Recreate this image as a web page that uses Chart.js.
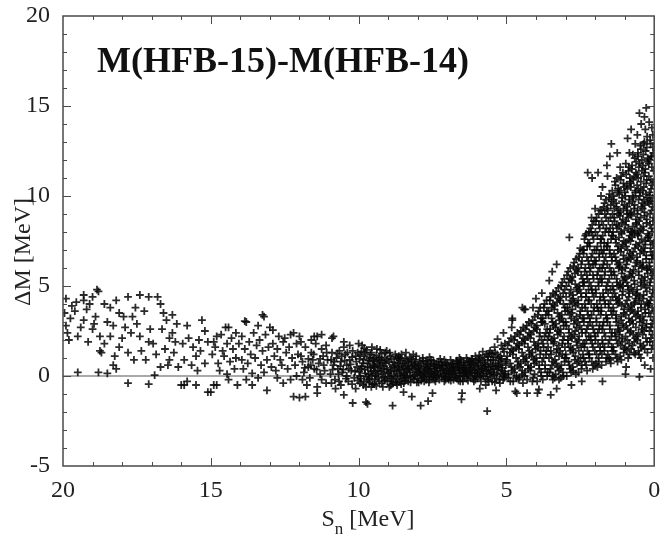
<!DOCTYPE html>
<html>
<head>
<meta charset="utf-8">
<script src="https://cdn.jsdelivr.net/npm/chart.js@4.4.1/dist/chart.umd.min.js"></script>
<style>
  html, body { margin: 0; padding: 0; background: #fff; }
  #wrap { width: 660px; height: 540px; position: relative; }
</style>
</head>
<body>
<div id="wrap"><canvas id="chart"></canvas></div>
<script>
// S_n [MeV] , dM [MeV]
var tailPts = [
  // 15 - 20 MeV
  [15.3,3.1],[15.2,2.5],[15.8,2.8],[15.5,1.1],[15.2,0.7],[15.9,0.9],[15.5,-0.5],[15.8,-0.3],[15.9,-0.5],[16.0,-0.5],[15.1,-0.9],[15.4,2.0],[15.6,1.6],[15.75,2.1],[15.35,1.4],[15.65,0.6],[15.95,1.8],[15.1,1.9],[15.45,0.3],
  [16.1,0.5],[16.4,0.9],[16.7,0.5],[16.9,0.05],[16.2,1.9],[16.3,2.4],[16.4,2.1],[16.6,3.5],[16.3,3.4],[16.5,3.1],[16.7,4.0],[16.8,4.4],[16.15,2.9],[16.55,1.5],[16.85,1.2],[16.25,1.3],[16.65,2.6],[16.95,1.8],[16.45,0.6],
  [17.1,4.4],[17.4,4.5],[17.8,4.4],[17.5,2.9],[17.4,2.2],[17.1,1.9],[17.6,0.9],[17.2,0.9],[17.8,1.3],[17.1,-0.45],[17.8,-0.4],[17.9,2.7],[17.25,3.6],[17.55,3.8],[17.7,2.4],[17.35,1.4],[17.05,2.6],[17.95,3.3],[17.65,3.3],
  [18.2,4.2],[18.6,4.0],[18.4,3.8],[18.1,3.5],[18.75,2.2],[18.4,2.2],[18.75,1.4],[18.7,1.3],[18.1,1.6],[18.8,0.2],[18.5,0.15],[18.3,0.6],[18.2,0.4],[18.9,3.3],[18.5,3.0],[18.3,2.8],[18.0,2.1],[18.6,1.8],[18.95,2.9],[18.25,1.1],
  [19.3,4.5],[19.3,4.2],[19.0,4.4],[18.8,4.7],[18.85,4.8],[19.1,4.0],[19.3,3.1],[19.4,2.7],[19.0,2.6],[19.9,4.3],[19.95,3.5],[19.85,2.4],[19.9,2.8],[19.7,3.9],[19.5,0.2],[19.6,3.6],[19.2,3.7],[19.5,2.2],[19.75,3.2],[19.15,1.9],[19.55,4.1],[19.8,2.0],
  // 10 - 15 MeV
  [10.0,1.8],[10.2,1.4],[10.5,1.6],[10.9,2.1],[10.85,2.2],[10.2,-1.5],[10.5,-1.05],[10.1,1.1],[10.3,0.9],[10.45,1.2],[10.6,0.8],[10.75,1.0],[10.85,0.6],[10.05,0.5],[10.25,0.3],[10.4,0.6],[10.55,0.2],[10.7,0.4],[10.95,0.1],[10.15,-0.1],[10.35,-0.3],[10.6,-0.5],[10.8,-0.2],[10.5,1.9],[10.65,1.4],[10.9,1.3],[10.3,1.7],[10.1,-0.7],[10.78,-0.7],[10.4,0.0],
  [10.03,1.3],[10.22,1.05],[10.38,1.3],[10.57,1.1],[10.72,1.25],[10.93,0.9],[10.08,0.8],[10.27,0.65],[10.47,0.85],[10.62,0.55],[10.82,0.8],[10.12,0.25],[10.33,0.4],[10.52,0.35],[10.68,0.1],[10.88,0.35],[10.02,-0.25],[10.22,-0.45],[10.43,-0.15],[10.66,-0.3],[10.92,-0.4],
  [11.4,2.2],[11.5,2.2],[11.8,-1.15],[11.4,-0.95],[11.1,1.7],[11.25,1.5],[11.45,1.8],[11.6,1.3],[11.8,1.6],[11.95,1.1],[11.05,0.9],[11.2,1.1],[11.35,0.7],[11.55,0.9],[11.7,0.5],[11.9,0.8],[11.15,0.3],[11.3,0.1],[11.5,0.4],[11.65,-0.1],[11.85,0.2],[11.1,-0.4],[11.4,-0.6],[11.75,-0.5],[11.95,1.9],[11.6,2.0],[11.25,2.3],[11.9,-0.2],
  [11.08,1.3],[11.3,0.95],[11.52,1.2],[11.7,0.95],[11.18,0.6],[11.42,0.35],[11.62,0.6],[11.82,0.45],[11.25,-0.2],
  [12.2,2.4],[12.3,2.3],[12.0,2.2],[12.9,2.55],[12.2,-1.15],[12.0,-1.2],[12.1,1.8],[12.35,1.6],[12.55,1.9],[12.75,1.5],[12.9,1.8],[12.05,1.2],[12.25,1.0],[12.45,1.3],[12.65,0.9],[12.85,1.1],[12.15,0.6],[12.4,0.4],[12.6,0.6],[12.8,0.3],[12.95,0.5],[12.3,-0.2],[12.55,-0.4],[12.75,-0.1],[12.5,2.1],[12.7,2.2],[12.1,0.0],
  [13.2,3.3],[13.25,3.4],[13.4,2.8],[13.0,2.7],[13.85,3.05],[13.8,3.0],[13.1,-0.8],[13.6,-0.5],[13.6,0.15],[13.15,2.3],[13.35,2.0],[13.55,2.4],[13.7,1.9],[13.95,2.2],[13.05,1.6],[13.25,1.4],[13.45,1.7],[13.65,1.2],[13.85,1.5],[13.1,0.9],[13.3,0.6],[13.5,1.0],[13.75,0.7],[13.9,0.4],[13.2,0.2],[13.4,-0.1],[13.8,-0.2],[13.95,0.9],
  [14.4,2.7],[14.5,2.7],[14.1,-0.5],[14.8,-0.5],[14.9,-0.5],[15.0,-0.9],[14.8,2.2],[14.15,2.4],[14.3,2.1],[14.65,2.3],[14.9,1.9],[14.05,1.8],[14.25,1.5],[14.45,1.8],[14.6,1.4],[14.85,1.6],[14.15,1.0],[14.35,0.8],[14.55,1.1],[14.75,0.7],[14.95,1.2],[14.2,0.4],[14.45,0.1],[14.7,0.3],[14.4,-0.2]
];

var troughPts = [
  [5.05,1.8],[5.3,2.05],[5.1,2.4],[5.35,-0.8],[5.12,1.5],[5.38,1.3],[5.2,1.1],[5.45,0.9],[5.03,0.8],[5.28,0.6],[5.42,0.4],[5.15,0.3],[5.33,0.1],[5.07,-0.1],[5.24,-0.2],[5.48,-0.3],[5.18,0.7],[5.4,1.6],[5.27,1.0],[5.1,0.0],[5.45,0.2],[5.22,-0.4],[5.36,0.55],
  [5.08,1.35],[5.31,1.2],[5.16,0.95],[5.44,1.05],[5.23,0.85],[5.02,0.6],[5.37,0.7],[5.13,0.45],[5.29,0.35],[5.47,0.55],[5.06,0.25],[5.2,0.15],[5.41,0.05],[5.11,-0.2],[5.34,-0.15],[5.26,0.5],[5.49,1.25],[5.17,1.7],[5.04,0.1],[5.39,-0.35],
  [5.55,1.4],[5.8,1.35],[5.7,-0.5],[5.65,-1.95],[5.62,1.1],[5.88,1.0],[5.53,0.85],[5.75,0.75],[5.95,0.6],[5.6,0.5],[5.83,0.4],[5.68,0.3],[5.9,0.2],[5.57,0.1],[5.78,0.0],[5.98,-0.1],[5.64,-0.2],[5.86,-0.3],[5.72,0.65],[5.52,0.25],[5.93,0.9],[5.9,-0.7],[5.67,1.2],
  [5.58,1.25],[5.74,1.05],[5.92,1.15],[5.63,0.9],[5.81,0.85],[5.97,0.75],[5.54,0.65],[5.7,0.55],[5.87,0.55],[5.61,0.35],[5.79,0.25],[5.95,0.35],[5.66,0.15],[5.84,0.1],[5.53,-0.05],[5.71,-0.15],[5.89,-0.05],[5.6,-0.3],[5.76,0.45],[5.99,0.15],
  [6.15,0.95],[6.05,1.1],[6.32,0.85],[6.45,0.75],[6.1,0.7],[6.25,0.6],[6.4,0.5],[6.02,0.45],[6.2,0.35],[6.36,0.25],[6.48,0.2],[6.08,0.15],[6.28,0.05],[6.42,-0.05],[6.13,-0.15],[6.3,-0.25],[6.47,-0.3],[6.22,0.8],[6.05,-0.2],[6.38,0.4],
  [6.03,0.85],[6.18,0.95],[6.35,1.0],[6.12,0.55],[6.27,0.75],[6.44,0.6],[6.07,0.3],[6.23,0.45],[6.39,0.3],[6.16,0.2],[6.33,0.1],[6.49,0.0],[6.04,0.0],[6.21,-0.05],[6.41,0.15],[6.1,-0.3],[6.26,0.25],[6.46,0.45],[6.34,-0.15],[6.19,0.65],
  [6.5,-0.95],[6.52,-1.3],[6.55,0.9],[6.7,0.8],[6.85,0.7],[6.6,0.6],[6.78,0.5],[6.93,0.45],[6.63,0.35],[6.82,0.25],[6.97,0.2],[6.58,0.15],[6.74,0.05],[6.9,-0.05],[6.67,-0.15],[6.88,-0.25],[6.56,-0.3],[6.8,0.4],[6.95,-0.2],[6.65,0.7],
  [6.53,0.75],[6.68,0.85],[6.84,0.55],[6.99,0.65],[6.6,0.45],[6.76,0.3],[6.91,0.3],[6.54,0.3],[6.71,0.15],[6.86,0.1],[6.57,0.0],[6.72,-0.1],[6.94,0.1],[6.62,-0.25],[6.79,-0.2],[6.97,-0.1],[6.64,0.5],[6.81,0.65],[6.89,0.9],[6.59,1.0],
  [7.1,0.9],[7.05,0.75],[7.3,0.8],[7.45,0.65],[7.15,0.55],[7.38,0.45],[7.02,0.4],[7.22,0.3],[7.42,0.25],[7.12,0.15],[7.33,0.05],[7.48,-0.05],[7.07,-0.1],[7.27,-0.2],[7.4,-0.3],[7.18,0.6],[7.5,-0.95],[7.35,0.2],
  [7.03,0.6],[7.2,0.75],[7.36,0.65],[7.47,0.85],[7.09,0.3],[7.25,0.45],[7.43,0.4],[7.14,0.0],[7.3,0.1],[7.46,0.1],[7.04,0.15],[7.2,-0.05],[7.38,-0.1],[7.1,-0.3],[7.29,0.6],[7.44,-0.2],[7.16,0.35],[7.24,0.95],[7.4,0.55],[7.06,-0.2],
  [7.6,1.05],[7.65,-1.4],[7.9,-1.65],[7.55,0.9],[7.72,0.8],[7.88,0.7],[7.58,0.55],[7.8,0.5],[7.95,0.4],[7.62,0.3],[7.76,0.2],[7.92,0.15],[7.52,0.1],[7.7,0.0],[7.85,-0.1],[7.6,-0.2],[7.78,-0.3],[7.97,-0.35],[7.68,0.65],[7.83,1.0],
  [7.53,0.7],[7.66,0.85],[7.82,0.85],[7.98,0.6],[7.57,0.4],[7.74,0.55],[7.9,0.3],[7.56,0.2],[7.72,0.35],[7.87,0.05],[7.64,0.1],[7.8,-0.05],[7.96,0.2],[7.54,-0.1],[7.71,-0.2],[7.88,-0.25],[7.62,-0.35],[7.93,0.8],[7.79,0.2],[7.66,0.45],
  [8.4,1.3],[8.2,-1.15],[8.48,-0.9],[8.05,1.1],[8.22,0.95],[8.38,0.85],[8.1,0.7],[8.3,0.6],[8.45,0.5],[8.02,0.45],[8.17,0.35],[8.35,0.25],[8.48,0.15],[8.08,0.1],[8.25,0.0],[8.42,-0.1],[8.13,-0.2],[8.32,-0.3],[8.47,-0.4],[8.2,0.8],[8.03,-0.35],
  [8.07,0.9],[8.27,1.05],[8.43,0.95],[8.14,0.6],[8.33,0.75],[8.49,0.7],[8.04,0.25],[8.22,0.5],[8.4,0.35],[8.11,0.0],[8.28,0.2],[8.46,0.05],[8.18,-0.1],[8.37,-0.05],[8.01,-0.15],[8.24,-0.35],[8.42,-0.25],[8.09,0.55],[8.31,0.4],[8.15,1.2],
  [8.95,1.3],[8.85,-1.65],[8.55,1.2],[8.72,1.05],[8.88,0.95],[8.6,0.85],[8.8,0.75],[8.52,0.6],[8.68,0.5],[8.92,0.45],[8.63,0.35],[8.78,0.25],[8.98,0.15],[8.57,0.05],[8.74,-0.05],[8.9,-0.15],[8.62,-0.3],[8.83,-0.4],[8.7,-0.5],[8.96,-0.6],[8.66,0.95],
  [8.58,1.0],[8.76,1.2],[8.93,1.1],[8.65,0.7],[8.84,0.55],[8.97,0.8],[8.54,0.4],[8.71,0.3],[8.9,0.3],[8.6,0.15],[8.81,0.05],[8.95,-0.05],[8.53,-0.15],[8.69,-0.2],[8.87,-0.3],[8.56,-0.45],[8.77,0.6],[8.64,1.1],[8.91,-0.5],[8.73,-0.35],
  [9.05,1.4],[9.22,1.25],[9.4,1.15],[9.12,1.0],[9.32,0.9],[9.48,0.8],[9.08,0.7],[9.27,0.6],[9.44,0.5],[9.15,0.4],[9.35,0.3],[9.02,0.2],[9.2,0.1],[9.42,0.0],[9.1,-0.15],[9.3,-0.3],[9.47,-0.45],[9.18,-0.6],[9.38,1.5],[9.25,0.85],[9.45,-0.2],
  [9.1,1.3],[9.29,1.05],[9.46,1.0],[9.04,0.9],[9.19,0.75],[9.37,0.7],[9.13,0.55],[9.3,0.45],[9.49,0.3],[9.06,0.35],[9.24,0.25],[9.41,0.15],[9.15,-0.05],[9.34,-0.1],[9.03,-0.3],[9.22,-0.4],[9.4,-0.55],[9.27,1.45],[9.48,0.55],[9.12,-0.25],
  [9.7,-1.55],[9.75,-1.45],[9.55,1.6],[9.72,1.45],[9.9,1.35],[9.6,1.2],[9.8,1.1],[9.97,0.95],[9.65,0.85],[9.85,0.7],[9.52,0.6],[9.7,0.5],[9.92,0.4],[9.58,0.25],[9.78,0.15],[9.95,0.0],[9.62,-0.15],[9.82,-0.3],[9.53,-0.45],[9.75,-0.6],[9.88,1.7],[9.66,0.1],
  [9.56,1.3],[9.76,1.3],[9.94,1.2],[9.63,1.0],[9.83,0.9],[9.51,0.9],[9.69,0.7],[9.89,0.55],[9.6,0.45],[9.79,0.35],[9.98,0.25],[9.55,0.05],[9.73,-0.05],[9.92,-0.15],[9.64,-0.35],[9.84,-0.5],[9.57,-0.6],[9.96,-0.4],[9.81,1.55],[9.68,-0.2]
];

var wedgePts = [
  [0.05,13.4],[0.12,12.9],[0.03,12.4],[0.16,12.0],[0.08,11.6],[0.18,11.1],[0.02,10.8],[0.11,10.4],[0.06,9.9],[0.17,9.6],[0.09,9.2],[0.03,8.8],[0.14,8.4],[0.07,8.0],[0.19,7.7],[0.04,7.3],[0.12,6.9],[0.08,6.5],[0.16,6.1],[0.02,5.8],[0.1,5.4],[0.15,5.0],[0.05,4.6],[0.13,4.2],[0.07,3.8],[0.18,3.5],[0.03,3.1],[0.11,2.7],[0.06,2.3],[0.15,1.9],[0.09,1.5],[0.04,1.0],[0.12,0.4],[0.17,14.1],[0.08,13.8],[0.14,10.0],[0.01,6.7],[0.19,4.0],[0.1,12.2],[0.13,7.5],
  [0.14,13.1],[0.04,12.7],[0.09,12.2],[0.18,11.8],[0.02,11.4],[0.12,10.9],[0.07,10.6],[0.16,10.2],[0.11,9.7],[0.05,9.4],[0.14,9.0],[0.04,8.6],[0.09,8.2],[0.18,7.8],[0.02,7.4],[0.12,7.1],[0.07,6.7],[0.16,6.3],[0.11,5.9],[0.05,5.6],[0.14,5.2],[0.04,4.8],[0.09,4.4],[0.18,4.0],[0.02,3.6],[0.12,3.3],[0.07,2.9],[0.16,2.5],[0.11,2.1],[0.05,1.7],
  [0.27,14.9],[0.33,14.4],[0.24,13.3],[0.36,12.9],[0.29,12.5],[0.22,12.1],[0.38,11.7],[0.31,11.3],[0.25,10.9],[0.35,10.5],[0.28,10.1],[0.21,9.7],[0.39,9.3],[0.32,8.9],[0.26,8.5],[0.37,8.1],[0.23,7.7],[0.3,7.3],[0.34,6.9],[0.27,6.5],[0.38,6.1],[0.22,5.7],[0.33,5.3],[0.29,4.9],[0.36,4.5],[0.24,4.1],[0.31,3.7],[0.39,3.3],[0.26,2.9],[0.34,2.5],[0.28,2.1],[0.37,1.7],[0.23,1.3],[0.32,0.6],[0.3,13.7],[0.25,6.0],[0.35,9.8],
  [0.33,13.0],[0.25,12.7],[0.37,12.3],[0.22,11.9],[0.3,11.5],[0.35,11.1],[0.27,10.7],[0.39,10.3],[0.24,9.9],[0.32,9.5],[0.33,9.1],[0.25,8.7],[0.37,8.3],[0.22,7.9],[0.3,7.5],[0.35,7.1],[0.27,6.7],[0.39,6.3],[0.24,5.9],[0.32,5.5],[0.33,5.1],[0.25,4.7],[0.37,4.3],[0.22,3.9],[0.3,3.5],[0.35,3.1],[0.27,2.7],[0.39,2.3],[0.24,1.9],[0.32,1.5],
  [0.5,14.6],[0.44,14.0],[0.57,13.4],[0.47,12.8],[0.55,12.4],[0.42,12.0],[0.52,11.6],[0.58,11.2],[0.45,10.8],[0.53,10.4],[0.49,10.0],[0.41,9.6],[0.56,9.2],[0.46,8.8],[0.59,8.4],[0.51,8.0],[0.43,7.6],[0.54,7.2],[0.48,6.8],[0.57,6.4],[0.42,6.0],[0.52,5.6],[0.46,5.2],[0.58,4.8],[0.5,4.4],[0.44,4.0],[0.55,3.6],[0.48,3.2],[0.41,2.8],[0.53,2.4],[0.57,2.0],[0.45,1.6],[0.51,1.2],[0.5,-0.05],[0.45,1.0],[0.54,11.0],[0.43,5.4],[0.56,7.9],
  [0.45,12.6],[0.55,12.2],[0.49,11.8],[0.42,11.4],[0.58,10.6],[0.47,10.2],[0.53,9.8],[0.44,9.4],[0.57,9.0],[0.51,8.6],[0.45,8.2],[0.55,7.8],[0.49,7.4],[0.42,7.0],[0.58,6.6],[0.47,6.2],[0.53,5.8],[0.44,5.0],[0.57,4.6],[0.51,4.2],[0.45,3.8],[0.55,3.4],[0.49,3.0],[0.42,2.6],[0.58,2.2],[0.47,1.8],[0.53,1.4],
  [0.78,13.7],[0.64,12.9],[0.72,12.3],[0.61,11.9],[0.76,11.5],[0.67,11.1],[0.79,10.7],[0.63,10.3],[0.71,9.9],[0.66,9.5],[0.77,9.1],[0.62,8.7],[0.73,8.3],[0.68,7.9],[0.8,7.5],[0.65,7.1],[0.74,6.7],[0.61,6.3],[0.7,5.9],[0.77,5.5],[0.66,5.1],[0.72,4.7],[0.63,4.3],[0.79,3.9],[0.69,3.5],[0.75,3.1],[0.62,2.7],[0.71,2.3],[0.67,1.9],[0.78,1.5],[0.64,1.2],[0.73,10.0],[0.68,4.0],[0.76,8.0],
  [0.66,12.1],[0.75,11.7],[0.62,11.3],[0.71,10.9],[0.79,10.5],[0.64,10.2],[0.73,9.7],[0.68,9.3],[0.77,8.9],[0.61,8.5],[0.66,8.1],[0.75,7.7],[0.62,7.3],[0.71,6.9],[0.79,6.5],[0.64,6.1],[0.73,5.7],[0.68,5.3],[0.77,4.9],[0.61,4.5],[0.66,4.1],[0.75,3.7],[0.62,3.3],[0.71,2.9],[0.79,2.5],[0.64,2.1],[0.73,1.7],[0.68,1.3],
  [0.9,13.2],[0.84,12.4],[0.96,11.8],[0.87,11.4],[0.82,11.0],[0.93,10.6],[0.99,10.2],[0.85,9.8],[0.91,9.4],[0.81,9.0],[0.95,8.6],[0.88,8.2],[0.83,7.8],[0.97,7.4],[0.9,7.0],[0.86,6.6],[0.94,6.2],[0.81,5.8],[0.98,5.4],[0.89,5.0],[0.84,4.6],[0.92,4.2],[0.87,3.8],[0.96,3.4],[0.82,3.0],[0.9,2.6],[0.97,2.2],[0.85,1.8],[0.93,1.4],[0.88,1.0],[0.97,0.1],[0.95,0.5],[0.92,9.0],[0.86,4.4],
  [0.86,11.6],[0.95,11.2],[0.82,10.8],[0.91,10.4],[0.98,10.0],[0.84,9.6],[0.93,9.2],[0.88,8.8],[0.97,8.4],[0.81,8.0],[0.86,7.6],[0.95,7.2],[0.82,6.8],[0.91,6.4],[0.98,6.0],[0.84,5.6],[0.93,5.2],[0.88,4.8],[0.97,4.0],[0.81,3.6],[0.86,3.2],[0.95,2.8],[0.82,2.4],[0.91,2.0],[0.98,1.6],[0.84,1.2],
  [1.06,11.3],[1.14,10.9],[1.02,10.5],[1.18,10.1],[1.09,9.7],[1.04,9.3],[1.16,8.9],[1.11,8.5],[1.01,8.1],[1.19,7.7],[1.07,7.3],[1.13,6.9],[1.03,6.5],[1.17,6.1],[1.1,5.7],[1.05,5.3],[1.15,4.9],[1.08,4.5],[1.19,4.1],[1.02,3.7],[1.12,3.3],[1.06,2.9],[1.17,2.5],[1.09,2.1],[1.14,1.7],[1.03,1.3],[1.11,0.9],[1.15,11.6],[1.07,5.0],[1.12,8.0],
  [1.12,11.1],[1.04,10.7],[1.17,10.3],[1.08,9.9],[1.01,9.5],[1.15,9.1],[1.06,8.7],[1.19,8.3],[1.1,7.9],[1.03,7.5],[1.12,7.1],[1.04,6.7],[1.17,6.3],[1.08,5.9],[1.01,5.5],[1.15,5.1],[1.06,4.7],[1.19,4.3],[1.1,3.9],[1.03,3.5],[1.12,3.1],[1.04,2.7],[1.17,2.3],[1.08,1.9],[1.01,1.5],[1.15,1.1],
  [1.25,12.4],[1.27,11.0],[1.33,10.8],[1.22,10.4],[1.37,10.0],[1.29,9.6],[1.21,9.2],[1.35,8.8],[1.27,8.4],[1.39,8.0],[1.31,7.6],[1.23,7.2],[1.36,6.8],[1.28,6.4],[1.2,6.0],[1.34,5.6],[1.26,5.2],[1.38,4.8],[1.3,4.4],[1.24,4.0],[1.37,3.6],[1.29,3.2],[1.22,2.8],[1.33,2.4],[1.27,2.0],[1.39,1.6],[1.31,1.2],[1.24,0.8],[1.35,9.3],[1.28,3.0],
  [1.31,10.6],[1.23,10.2],[1.37,9.8],[1.27,9.4],[1.21,9.0],[1.34,8.6],[1.26,8.2],[1.39,7.8],[1.29,7.4],[1.22,7.0],[1.31,6.6],[1.23,6.2],[1.37,5.8],[1.27,5.4],[1.21,5.0],[1.34,4.6],[1.26,4.2],[1.39,3.8],[1.29,3.4],[1.22,2.6],[1.31,2.2],[1.23,1.8],[1.37,1.4],[1.27,1.0],
  [1.45,12.9],[1.5,12.2],[1.6,11.7],[1.58,11.1],[1.42,10.3],[1.53,9.9],[1.47,9.5],[1.6,9.3],[1.41,9.0],[1.55,8.6],[1.49,8.2],[1.43,7.8],[1.57,7.4],[1.51,7.0],[1.44,6.6],[1.59,6.2],[1.46,5.8],[1.52,5.4],[1.41,5.0],[1.56,4.6],[1.48,4.2],[1.54,3.8],[1.43,3.4],[1.58,3.0],[1.5,2.6],[1.45,2.2],[1.55,1.8],[1.42,1.4],[1.52,1.0],[1.47,0.7],
  [1.51,10.1],[1.44,9.7],[1.57,9.2],[1.48,8.8],[1.41,8.4],[1.54,8.0],[1.46,7.6],[1.59,7.2],[1.5,6.8],[1.43,6.4],[1.51,6.0],[1.44,5.6],[1.57,5.2],[1.48,4.8],[1.41,4.4],[1.54,4.0],[1.46,3.6],[1.59,3.2],[1.5,2.8],[1.43,2.4],[1.51,2.0],[1.44,1.6],[1.57,1.2],[1.48,0.9],
  [1.75,10.5],[1.8,10.0],[1.63,9.8],[1.71,9.4],[1.67,9.0],[1.78,8.6],[1.62,8.2],[1.74,7.8],[1.69,7.4],[1.79,7.0],[1.64,6.6],[1.72,6.2],[1.66,5.8],[1.77,5.4],[1.61,5.0],[1.73,4.6],[1.68,4.2],[1.79,3.8],[1.63,3.4],[1.71,3.0],[1.76,2.6],[1.65,2.2],[1.74,1.8],[1.69,1.4],[1.62,1.0],[1.78,0.6],[1.75,-0.3],[1.7,7.0],
  [1.68,9.6],[1.77,9.2],[1.63,8.8],[1.72,8.4],[1.66,8.0],[1.79,7.6],[1.61,7.2],[1.74,6.8],[1.69,6.4],[1.76,6.0],[1.68,5.6],[1.77,5.2],[1.63,4.8],[1.72,4.4],[1.66,4.0],[1.79,3.6],[1.61,3.2],[1.74,2.8],[1.69,2.4],[1.76,2.0],[1.68,1.6],[1.77,1.2],[1.63,0.8],
  [1.9,11.3],[2.0,9.3],[1.83,9.2],[1.95,8.8],[1.87,8.4],[1.99,8.0],[1.81,7.6],[1.92,7.2],[1.86,6.8],[1.97,6.4],[1.84,6.0],[1.93,5.6],[1.89,5.2],[1.98,4.8],[1.82,4.4],[1.94,4.0],[1.88,3.6],[1.96,3.2],[1.85,2.8],[1.91,2.4],[1.99,2.0],[1.83,1.6],[1.95,1.2],[1.88,0.8],[1.92,0.5],
  [1.88,9.0],[1.97,8.6],[1.84,8.2],[1.92,7.8],[1.81,7.4],[1.95,7.0],[1.86,6.6],[1.99,6.2],[1.9,5.8],[1.83,5.4],[1.88,5.0],[1.97,4.6],[1.84,4.2],[1.92,3.8],[1.81,3.4],[1.95,3.0],[1.86,2.6],[1.99,2.2],[1.9,1.8],[1.83,1.4],[1.88,1.0],[1.97,0.7],
  [2.1,11.0],[2.12,8.8],[2.04,8.6],[2.16,8.2],[2.08,7.8],[2.19,7.4],[2.02,7.0],[2.13,6.6],[2.07,6.2],[2.18,5.8],[2.05,5.4],[2.14,5.0],[2.09,4.6],[2.2,4.2],[2.03,3.8],[2.12,3.4],[2.17,3.0],[2.06,2.6],[2.15,2.2],[2.1,1.8],[2.01,1.4],[2.19,1.0],[2.08,0.4],[2.1,8.4],
  [2.13,8.0],[2.05,7.6],[2.18,7.2],[2.09,6.8],[2.02,6.4],[2.15,6.0],[2.07,5.6],[2.2,5.2],[2.11,4.8],[2.04,4.4],[2.13,4.0],[2.05,3.6],[2.18,3.2],[2.09,2.8],[2.02,2.4],[2.15,2.0],[2.07,1.6],[2.2,1.2],[2.11,0.8],[2.04,0.6],
  [2.25,11.3],[2.3,7.9],[2.21,8.0],[2.36,7.6],[2.27,7.2],[2.39,6.8],[2.23,6.4],[2.33,6.0],[2.28,5.6],[2.37,5.2],[2.22,4.8],[2.31,4.4],[2.35,4.0],[2.26,3.6],[2.38,3.2],[2.24,2.8],[2.32,2.4],[2.29,2.0],[2.36,1.6],[2.21,1.2],[2.34,0.8],[2.27,0.3],
  [2.33,7.8],[2.24,7.4],[2.38,7.0],[2.28,6.6],[2.21,6.2],[2.35,5.8],[2.26,5.4],[2.39,5.0],[2.3,4.6],[2.23,4.2],[2.33,3.8],[2.24,3.4],[2.38,3.0],[2.28,2.6],[2.21,2.2],[2.35,1.8],[2.26,1.4],[2.39,1.0],[2.3,0.6],
  [2.5,7.1],[2.43,7.0],[2.56,6.6],[2.47,6.2],[2.59,5.8],[2.42,5.4],[2.53,5.0],[2.48,4.6],[2.57,4.2],[2.44,3.8],[2.51,3.4],[2.58,3.0],[2.46,2.6],[2.54,2.2],[2.41,1.8],[2.55,1.4],[2.49,1.0],[2.45,0.6],[2.56,0.2],[2.45,-0.3],
  [2.52,6.8],[2.44,6.4],[2.57,6.0],[2.47,5.6],[2.41,5.2],[2.55,4.8],[2.46,4.4],[2.59,4.0],[2.5,3.6],[2.43,3.2],[2.52,2.8],[2.44,2.4],[2.57,2.0],[2.47,1.6],[2.41,1.2],[2.55,0.8],[2.46,0.4],
  [2.64,6.5],[2.73,6.1],[2.68,5.7],[2.79,5.3],[2.62,4.9],[2.75,4.5],[2.7,4.1],[2.77,3.7],[2.63,3.3],[2.72,2.9],[2.67,2.5],[2.78,2.1],[2.61,1.7],[2.74,1.3],[2.69,0.9],[2.76,0.5],[2.65,0.1],[2.8,-0.5],
  [2.71,6.3],[2.63,5.9],[2.77,5.5],[2.67,5.1],[2.61,4.7],[2.74,4.3],[2.66,3.9],[2.79,3.5],[2.69,3.1],[2.62,2.7],[2.71,2.3],[2.63,1.9],[2.77,1.5],[2.67,1.1],[2.61,0.7],[2.74,0.3],
  [2.87,7.7],[2.84,6.0],[2.95,5.6],[2.89,5.2],[2.82,4.8],[2.98,4.4],[2.86,4.0],[2.93,3.6],[2.81,3.2],[2.97,2.8],[2.88,2.4],[2.92,2.0],[2.84,1.6],[2.99,1.2],[2.9,0.8],[2.85,0.4],[2.96,0.0],
  [2.91,5.8],[2.83,5.4],[2.97,5.0],[2.87,4.6],[2.81,4.2],[2.94,3.8],[2.86,3.4],[2.99,3.0],[2.89,2.6],[2.82,2.2],[2.91,1.8],[2.83,1.4],[2.97,1.0],[2.87,0.6],[2.81,0.2],
  [3.04,5.4],[3.15,5.0],[3.08,4.6],[3.19,4.2],[3.02,3.8],[3.13,3.4],[3.07,3.0],[3.17,2.6],[3.05,2.2],[3.11,1.8],[3.18,1.4],[3.03,1.0],[3.14,0.6],[3.09,0.2],[3.16,-0.1],
  [3.11,5.2],[3.03,4.8],[3.17,4.4],[3.07,4.0],[3.01,3.6],[3.14,3.2],[3.06,2.8],[3.19,2.4],[3.09,2.0],[3.02,1.6],[3.11,1.2],[3.03,0.8],[3.17,0.4],[3.07,0.0],
  [3.3,6.2],[3.24,4.9],[3.35,4.5],[3.28,4.1],[3.38,3.7],[3.21,3.3],[3.33,2.9],[3.26,2.5],[3.39,2.1],[3.23,1.7],[3.31,1.3],[3.36,0.9],[3.27,0.5],[3.34,0.1],[3.22,-0.2],[3.3,-0.7],
  [3.31,4.7],[3.23,4.3],[3.37,3.9],[3.27,3.5],[3.21,3.1],[3.34,2.7],[3.26,2.3],[3.39,1.9],[3.29,1.5],[3.22,1.1],[3.31,0.7],[3.23,0.3],[3.37,-0.1],
  [3.45,5.8],[3.55,5.3],[3.42,4.6],[3.53,4.2],[3.47,3.8],[3.58,3.4],[3.44,3.0],[3.52,2.6],[3.57,2.2],[3.41,1.8],[3.5,1.4],[3.56,1.0],[3.46,0.6],[3.54,0.2],[3.43,-0.2],[3.5,-1.05],
  [3.51,4.4],[3.43,4.0],[3.57,3.6],[3.47,3.2],[3.41,2.8],[3.54,2.4],[3.46,2.0],[3.59,1.6],[3.49,1.2],[3.42,0.8],[3.51,0.4],[3.43,0.0],
  [3.64,4.2],[3.73,3.8],[3.67,3.4],[3.78,3.0],[3.62,2.6],[3.71,2.2],[3.76,1.8],[3.65,1.4],[3.74,1.0],[3.69,0.6],[3.61,0.2],[3.77,-0.2],[3.7,2.9],
  [3.71,4.0],[3.63,3.6],[3.77,3.2],[3.67,2.4],[3.61,2.0],[3.74,1.6],[3.66,1.2],[3.79,0.8],[3.69,0.4],[3.62,0.0],
  [3.8,4.6],[3.86,3.8],[3.94,3.4],[3.82,3.0],[3.97,2.6],[3.88,2.2],[3.92,1.8],[3.84,1.4],[3.99,1.0],[3.89,0.6],[3.83,0.2],[3.96,-0.3],[3.95,-0.95],[3.9,-0.75],
  [3.91,3.6],[3.83,3.2],[3.97,2.8],[3.87,2.4],[3.81,2.0],[3.94,1.6],[3.86,1.2],[3.99,0.8],[3.89,0.4],[3.82,0.0],
  [4.0,4.3],[4.1,3.8],[4.04,3.3],[4.15,2.9],[4.08,2.5],[4.19,2.1],[4.02,1.7],[4.13,1.3],[4.07,0.9],[4.17,0.5],[4.05,0.1],[4.12,-0.3],
  [4.11,3.1],[4.03,2.7],[4.17,2.3],[4.07,1.9],[4.01,1.5],[4.14,1.1],[4.06,0.7],[4.19,0.3],[4.09,-0.1],
  [4.24,3.0],[4.35,2.6],[4.28,2.2],[4.39,1.8],[4.22,1.4],[4.33,1.0],[4.27,0.6],[4.37,0.2],[4.3,-0.2],[4.3,-0.95],[4.36,3.7],
  [4.31,2.8],[4.23,2.4],[4.37,2.0],[4.27,1.6],[4.21,1.2],[4.34,0.8],[4.26,0.4],[4.39,0.0],
  [4.4,3.7],[4.46,3.8],[4.43,2.7],[4.55,2.3],[4.48,1.9],[4.58,1.5],[4.42,1.1],[4.52,0.7],[4.47,0.3],[4.56,-0.1],[4.44,-0.4],
  [4.51,2.5],[4.43,2.1],[4.57,1.7],[4.47,1.3],[4.41,0.9],[4.54,0.5],[4.46,0.1],[4.59,-0.2],
  [4.63,2.4],[4.74,2.0],[4.67,1.6],[4.78,1.2],[4.61,0.8],[4.72,0.4],[4.66,0.0],[4.77,-0.3],[4.65,-0.95],[4.7,-0.85],
  [4.71,2.2],[4.63,1.8],[4.77,1.4],[4.67,1.0],[4.61,0.6],[4.74,0.2],[4.66,-0.1],
  [4.8,3.2],[4.82,2.7],[4.85,2.1],[4.96,1.7],[4.88,1.3],[4.99,0.9],[4.83,0.5],[4.93,0.1],[4.87,-0.3],[4.8,3.1],
  [4.91,1.9],[4.83,1.5],[4.97,1.1],[4.87,0.7],[4.81,0.3],[4.94,-0.1]
];

var zeroLineSn = [0, 20];
var zeroLineDM = [0, 0];

var snRange = [0, 20];
var dmRange = [-5, 20];
var tickStep = 5;

var chartTitle = 'M(HFB-15)-M(HFB-14)';
var yTitle = '\u0394M [MeV]';

var serif = '"Liberation Serif", "DejaVu Serif", serif';

function toXY(list) {
  var out = [];
  for (var i = 0; i < list.length; i++) out.push({ x: list[i][0], y: list[i][1] });
  return out;
}

var allPts = toXY(tailPts.concat(troughPts).concat(wedgePts));
var zeroLine = [];
for (var i = 0; i < zeroLineSn.length; i++) zeroLine.push({ x: zeroLineSn[i], y: zeroLineDM[i] });

// frame, inward ticks and the texts
var decor = {
  id: 'decor',
  afterDraw: function (chart) {
    var ctx = chart.ctx, a = chart.chartArea;
    var sx = chart.scales.x, sy = chart.scales.y;
    ctx.save();
    ctx.strokeStyle = '#4a4a4a';
    ctx.lineWidth = 1;
    ctx.beginPath();
    var v, p, len;
    for (v = snRange[0] + 1; v < snRange[1]; v++) {
      p = Math.round(sx.getPixelForValue(v)) + 0.5;
      len = v % tickStep == 0 ? 8 : 4;
      ctx.moveTo(p, a.bottom); ctx.lineTo(p, a.bottom - len);
      ctx.moveTo(p, a.top); ctx.lineTo(p, a.top + len);
    }
    for (v = dmRange[0] + 1; v < dmRange[1]; v++) {
      p = Math.round(sy.getPixelForValue(v)) + 0.5;
      len = v % tickStep == 0 ? 8 : 4;
      ctx.moveTo(a.left, p); ctx.lineTo(a.left + len, p);
      ctx.moveTo(a.right, p); ctx.lineTo(a.right - len, p);
    }
    ctx.stroke();
    ctx.lineWidth = 1.5;
    ctx.strokeRect(a.left, a.top, a.right - a.left, a.bottom - a.top);

    // title inside the plot
    ctx.fillStyle = '#111';
    ctx.font = 'bold 36px ' + serif;
    ctx.textAlign = 'left';
    ctx.textBaseline = 'alphabetic';
    ctx.fillText(chartTitle, 97, 72);

    // x title with subscript n
    ctx.fillStyle = '#222';
    ctx.font = '24px ' + serif;
    var w1 = ctx.measureText('S').width;
    var rest = ' [MeV]';
    var w3 = ctx.measureText(rest).width;
    ctx.font = '17px ' + serif;
    var w2 = ctx.measureText('n').width;
    var x0 = 368 - (w1 + w2 + w3) / 2;
    ctx.font = '24px ' + serif;
    ctx.fillText('S', x0, 526);
    ctx.fillText(rest, x0 + w1 + w2, 526);
    ctx.font = '17px ' + serif;
    ctx.fillText('n', x0 + w1, 534);

    // y title
    ctx.font = '24px ' + serif;
    ctx.translate(30, 252);
    ctx.rotate(-Math.PI / 2);
    ctx.textAlign = 'center';
    ctx.fillText(yTitle, 0, 0);
    ctx.restore();
  }
};

new Chart(document.getElementById('chart'), {
  type: 'scatter',
  data: {
    datasets: [
      {
        data: allPts,
        pointStyle: 'cross',
        pointRadius: 3.9,
        pointBorderWidth: 1.8,
        borderColor: 'rgba(8,8,8,0.86)',
        backgroundColor: 'rgba(8,8,8,0.86)',
        order: 1
      },
      {
        type: 'line',
        data: zeroLine,
        borderColor: '#8c8c8c',
        borderWidth: 1.6,
        pointRadius: 0,
        fill: false,
        order: 2
      }
    ]
  },
  options: {
    responsive: true,
    maintainAspectRatio: false,
    animation: false,
    events: [],
    layout: { padding: { top: 16, right: 5, left: 0, bottom: 0 } },
    plugins: { legend: { display: false }, tooltip: { enabled: false } },
    scales: {
      x: {
        type: 'linear',
        reverse: true,
        min: snRange[0],
        max: snRange[1],
        grid: { display: false, drawTicks: false },
        border: { display: false },
        ticks: { stepSize: tickStep, padding: 10, color: '#222', font: { family: serif, size: 24 }, maxRotation: 0 },
        afterFit: function (s) { s.height = 74; s.paddingLeft = 0; s.paddingRight = 0; }
      },
      y: {
        min: dmRange[0],
        max: dmRange[1],
        grid: { display: false, drawTicks: false },
        border: { display: false },
        ticks: { stepSize: tickStep, padding: 13, color: '#222', font: { family: serif, size: 24 } },
        afterFit: function (s) { s.width = 63; s.paddingTop = 0; s.paddingBottom = 0; }
      }
    }
  },
  plugins: [decor]
});
</script>
</body>
</html>
